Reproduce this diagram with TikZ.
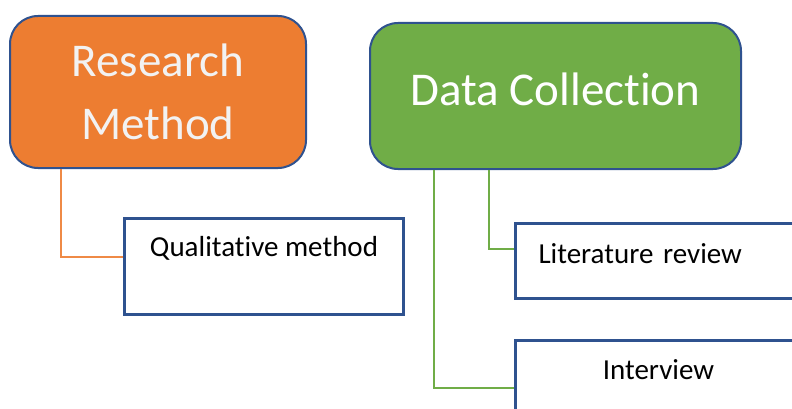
\documentclass[tikz,border=0pt]{standalone}
\usepackage{fontspec}
\setmainfont[Ligatures=NoCommon]{Carlito}
\usepackage{tikz}

\definecolor{methodorange}{HTML}{ED7D31}
\definecolor{collectgreen}{HTML}{70AD47}
\definecolor{outlineblue}{HTML}{2F528F}

\begin{document}
\begin{tikzpicture}[x=1pt,y=-1pt,
    headbox/.style={shape=rectangle,draw=outlineblue,line width=2pt,rounded corners=28pt,
        anchor=north west,inner sep=0pt,align=center,font=\fontsize{47}{63}\selectfont},
    leafbox/.style={shape=rectangle,draw=outlineblue,line width=3pt,fill=white,
        anchor=north west,inner sep=0pt,font=\fontsize{29}{35}\selectfont},
    link/.style={line width=2pt}]
                \clip (0,0) rectangle (792,409);

                \node[headbox,fill=methodorange,text=white!95!black,minimum width=296pt,minimum height=152pt] (rm) at (9,15) {Research\\Method};
                \node[headbox,fill=collectgreen,text=white,minimum width=371pt,minimum height=146pt,text depth=14pt] (dc) at (369,22) {Data Collection};

                \node[leafbox,minimum width=279pt,text height=38pt,text depth=58pt] (qm) at (123,217) {Qualitative method};
                \node[leafbox,inner xsep=23pt,text width=240pt,align=left,text height=40pt,text depth=35pt] (lr) at (514,222) {Literature review};
                \node[leafbox,minimum width=286pt,text height=39pt,text depth=55pt] (iv) at (514,339) {Interview};

                \draw [link,methodorange!90!white] ([xshift=52pt]rm.south west) |- (qm.base west);
                \draw [link,collectgreen] ([xshift=120pt]dc.south west) |- ([yshift=12.5pt]lr.west);
                \draw [link,collectgreen] ([xshift=65pt]dc.south west) |- (iv.west);
            \end{tikzpicture}
\end{document}
